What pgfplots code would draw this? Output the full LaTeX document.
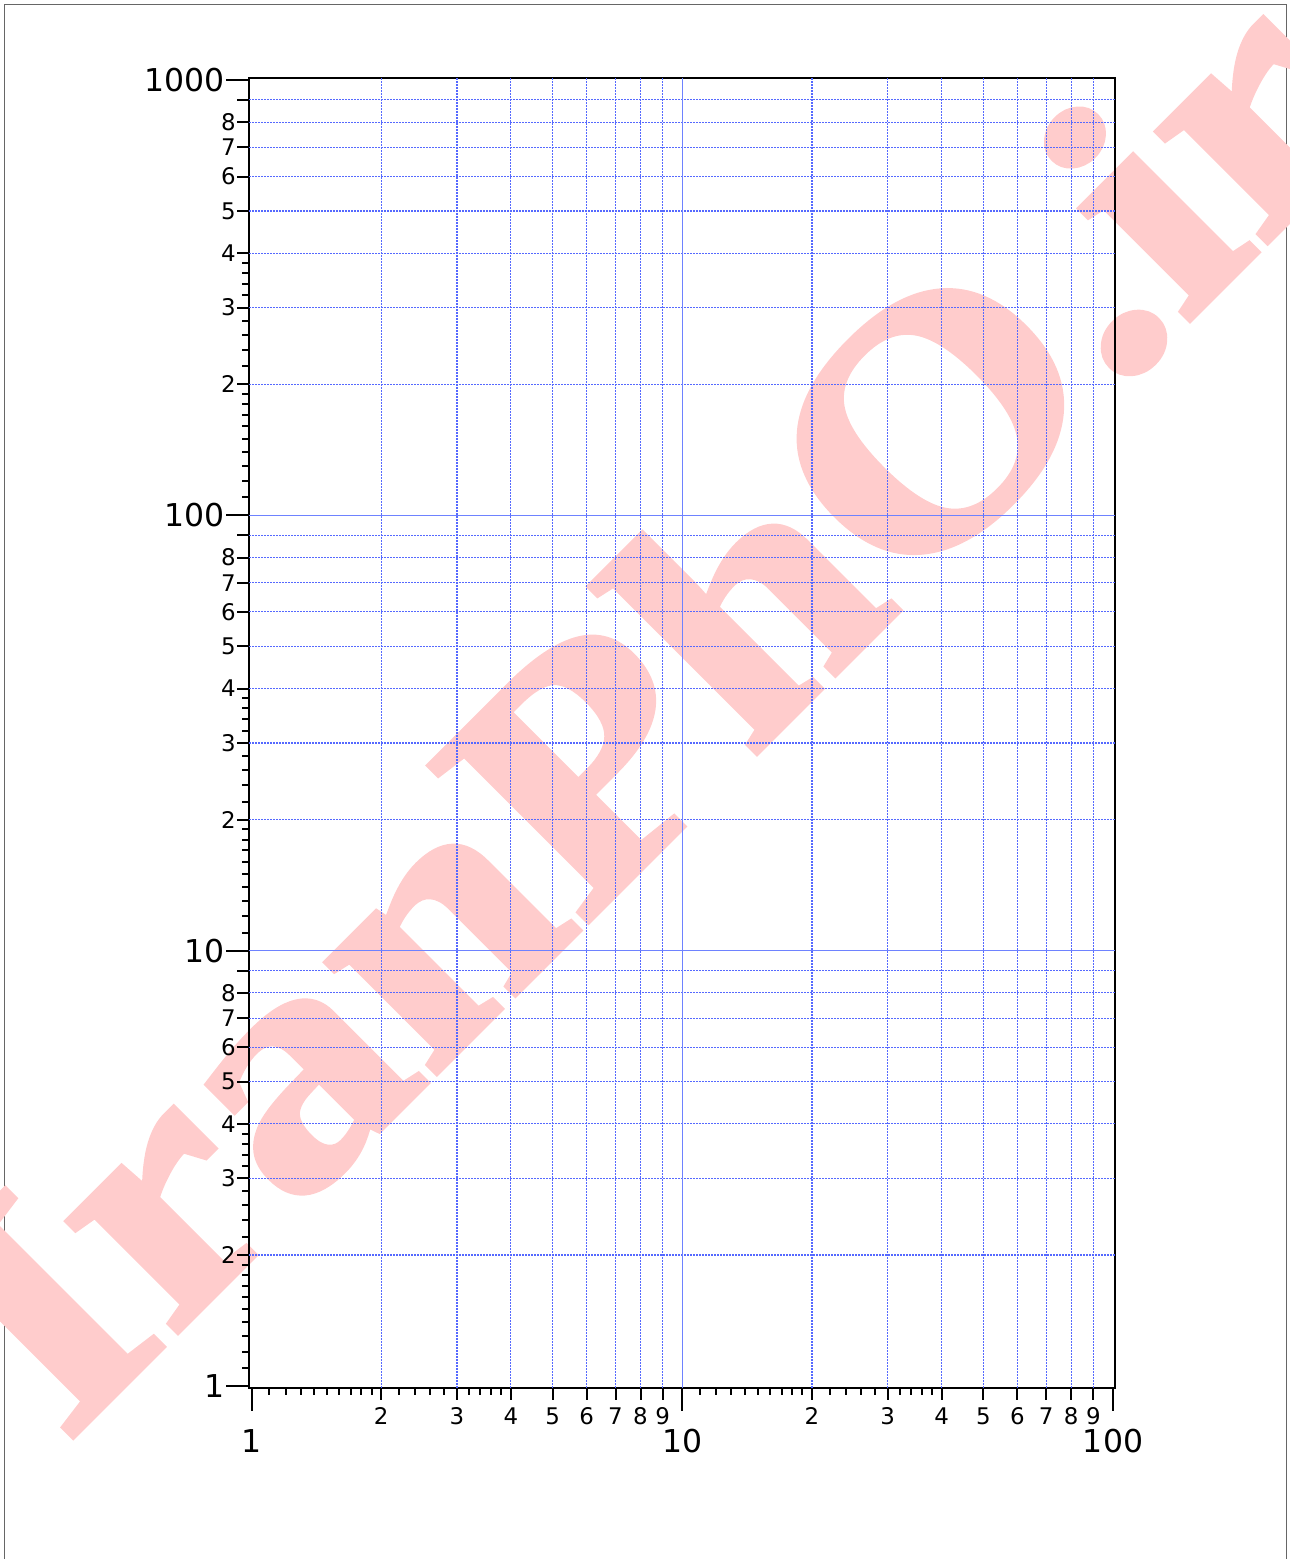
\documentclass[border=0pt]{standalone}
\usepackage{pgfplots}
\pgfplotsset{compat=1.18}
\usepackage{graphicx}
\usepackage{fontspec}
\setmainfont{DejaVu Sans}
\newfontfamily\wmfont{Liberation Serif Bold}[FakeBold=2]
\definecolor{gridmajor}{RGB}{110,130,255}
\definecolor{gridminor}{RGB}{85,105,255}
\definecolor{wmpink}{RGB}{255,204,204}
\begin{document}
\begin{tikzpicture}
\useasboundingbox (0,0) rectangle (645bp,779.5bp);
% page frame
\draw[black!60, line width=0.6bp] (2.25bp,-10bp) -- (2.25bp,777.25bp) -- (643.25bp,777.25bp) -- (643.25bp,-10bp);
% watermark
\node[wmpink, rotate=45, anchor=base west, inner sep=0pt] at (32bp,57bp)
  {\scalebox{1.145}[1]{\wmfont\fontsize{170}{172}\selectfont IranPhO.ir}};
\begin{axis}[
    at={(124.5bp,85.5bp)}, anchor=south west,
    scale only axis,
    width=433bp, height=655bp,
    xmode=log, ymode=log,
    xmin=0.9867, xmax=101.07,
    ymin=0.9895, ymax=1010.6,
    axis line style={line width=1bp},
    every tick/.style={line width=1bp},
    tick align=outside, tick pos=left,
    major tick length=11.5bp,
    minor tick length=3.5bp,
    xtick={1,10,100}, xticklabels={1,10,100},
    ytick={1,10,100,1000}, yticklabels={1,10,100,1000},
    xticklabel style={font=\fontsize{15.8}{18}\selectfont, inner xsep=1bp, inner ysep=9bp},
    yticklabel style={font=\fontsize{15.8}{18}\selectfont, inner xsep=0.5bp},
    minor xtick={1.1,1.2,1.3,1.4,1.5,1.6,1.7,1.8,1.9,2.2,2.4,2.6,2.8,3.2,3.4,3.6,3.8,
                 11,12,13,14,15,16,17,18,19,22,24,26,28,32,34,36,38},
    minor ytick={1.1,1.2,1.3,1.4,1.5,1.6,1.7,1.8,1.9,2.2,2.4,2.6,2.8,3.2,3.4,3.6,3.8,
                 11,12,13,14,15,16,17,18,19,22,24,26,28,32,34,36,38,
                 110,120,130,140,150,160,170,180,190,220,240,260,280,320,340,360,380},
    extra x ticks={2,3,4,5,6,7,8,9,20,30,40,50,60,70,80,90},
    extra x tick labels={2,3,4,5,6,7,8,9,2,3,4,5,6,7,8,9},
    extra y ticks={2,3,4,5,6,7,8,9,20,30,40,50,60,70,80,90,200,300,400,500,600,700,800,900},
    extra y tick labels={2,3,4,5,6,7,8,{},2,3,4,5,6,7,8,{},2,3,4,5,6,7,8,{}},
    extra x tick style={major tick length=6bp, grid=none,
        xticklabel style={font=\fontsize{11.5}{13}\selectfont, inner ysep=3.5bp}},
    extra y tick style={major tick length=6bp, grid=none,
        yticklabel style={font=\fontsize{11.5}{13}\selectfont, inner xsep=0.5bp}},
    grid=none,
]
\addplot[draw=none, forget plot] coordinates {(1,1) (100,1000)};
% dotted grid at 2..9 of every decade
\pgfplotsinvokeforeach{2,3,4,5,6,7,8,9,20,30,40,50,60,70,80,90}{
  \draw[gridminor, line width=0.6bp, dash pattern=on 0.75bp off 0.75bp]
    (axis cs:#1,0.9895) -- (axis cs:#1,1010.6);}
\pgfplotsinvokeforeach{2,3,4,5,6,7,8,9,20,30,40,50,60,70,80,90,200,300,400,500,600,700,800,900}{
  \draw[gridminor, line width=0.6bp, dash pattern=on 0.75bp off 0.75bp]
    (axis cs:0.9867,#1) -- (axis cs:101.07,#1);}
% solid grid lines at the decades inside the box
\draw[gridmajor, line width=0.6bp] (axis cs:10,0.9895) -- (axis cs:10,1010.6);
\draw[gridmajor, line width=0.6bp] (axis cs:0.9867,10) -- (axis cs:101.07,10);
\draw[gridmajor, line width=0.6bp] (axis cs:0.9867,100) -- (axis cs:101.07,100);
\end{axis}
\end{tikzpicture}
\end{document}
